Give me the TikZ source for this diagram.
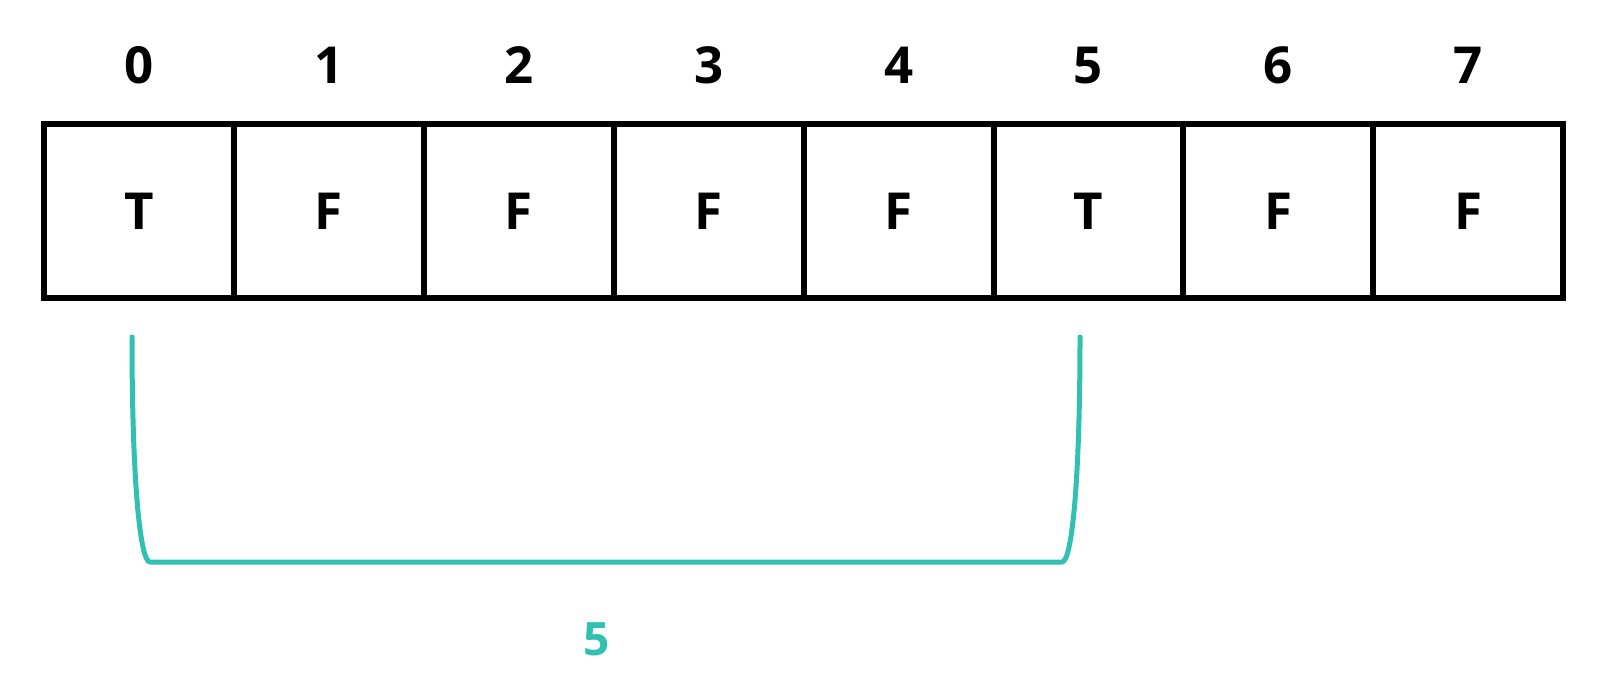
\documentclass[tikz,border=0pt]{standalone}
\usepackage{fontspec}
\setmainfont{Open Sans}
\definecolor{tealc}{RGB}{50,192,178}
\begin{document}
\begin{tikzpicture}[x=1pt,y=-1pt,
  cell/.style={draw=black, line width=6pt, minimum width=189.9pt, minimum height=173.5pt, inner sep=0pt, font=\fontsize{51}{51}\selectfont\bfseries},
  idx/.style={inner sep=0pt, anchor=base, font=\fontsize{51}{51}\selectfont\bfseries},
  bracket/.style={draw=tealc, line width=5pt, line cap=round, line join=round},
  lenlabel/.style={inner sep=0pt, anchor=base, text=tealc, font=\fontsize{46}{46}\selectfont\bfseries}]
\useasboundingbox (0,0) rectangle (1600,682);
\foreach \i/\v in {0/T,1/F,2/F,3/F,4/F,5/T,6/F,7/F}{
  \node[cell] (c\i) at ({138.95+189.9*\i},211.25) {\v};
  \node[idx] (i\i) at ({138.95+189.9*\i},83.5) {\i};
}
\coordinate (bl) at (132,337);
\coordinate (br) at (1080,337);
\draw[bracket] (bl) .. controls (132,480) and (140,562) .. (150,562) -- (1062,562) .. controls (1072,562) and (1080,480) .. (br);
\node[lenlabel] (len) at (597,655) {5};
\end{tikzpicture}
\end{document}
